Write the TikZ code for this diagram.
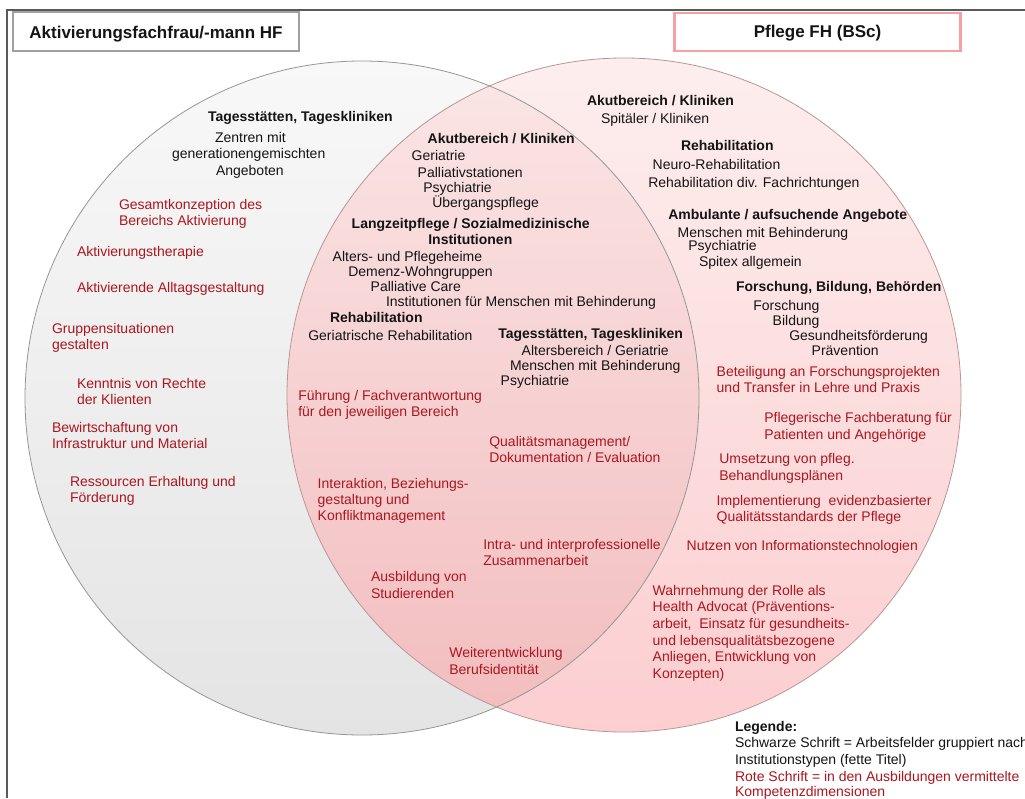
\documentclass[tikz,border=0pt]{standalone}
\usepackage{fontspec}
\setmainfont{Liberation Sans}
\definecolor{ink}{RGB}{20,20,20}
\definecolor{comp}{RGB}{172,22,30}
\definecolor{framegray}{RGB}{90,90,90}
\definecolor{hfborder}{RGB}{160,160,160}
\definecolor{fhborder}{RGB}{245,160,162}
\definecolor{hftop}{RGB}{248,248,248}
\definecolor{hfbot}{RGB}{228,228,228}
\definecolor{fhtop}{RGB}{253,238,238}
\definecolor{fhbot}{RGB}{252,206,208}
\definecolor{bothtop}{RGB}{251,230,230}
\definecolor{bothbot}{RGB}{242,188,190}
\definecolor{hfline}{RGB}{150,150,150}
\definecolor{fhline}{RGB}{185,150,152}
\begin{document}
\begin{tikzpicture}[x=1pt,y=-1pt,
  txt/.style={anchor=base west, inner sep=0pt, outer sep=0pt,
    font=\fontsize{14}{16.5}\selectfont, text=ink},
  hd/.style={txt, font=\fontsize{14}{16.5}\selectfont\bfseries},
  cmp/.style={txt, text=comp},
  titlebox/.style={draw, line width=2.6pt, inner sep=0pt, text=ink,
    font=\fontsize{17}{20}\selectfont\bfseries, text depth=0pt}]

\useasboundingbox (0,0) rectangle (1025,798);
\clip (0,0) rectangle (1025,798);
\fill[white] (0,0) rectangle (1025,798);

% outer frame
\coordinate (frTR) at (1025,10);
\coordinate (frTL) at (7,10);
\coordinate (frBL) at (7,798);
\draw[framegray, line width=1.5pt] (frTR) -- (frTL) -- (frBL);

% the two overlapping sets
\coordinate (cHF) at (362,398);
\coordinate (cFH) at (624,395);
\shade[top color=hftop, bottom color=hfbot] (cHF) circle[radius=337pt];
\shade[top color=fhtop, bottom color=fhbot] (cFH) circle[radius=337pt];
\begin{scope}
  \clip (cHF) circle[radius=337pt];
  \shade[top color=bothtop, bottom color=bothbot] (cFH) circle[radius=337pt];
\end{scope}
\draw[hfline, line width=0.8pt] (cHF) circle[radius=337pt];
\draw[fhline, line width=0.8pt] (cFH) circle[radius=337pt];

% titles
\node[titlebox, draw=hfborder, minimum width=286pt, minimum height=39pt,
  text height=13.6pt] (tHF) at (156,31.5) {Aktivierungsfachfrau/-mann HF};
\node[titlebox, draw=fhborder, minimum width=286pt, minimum height=38pt,
  text height=11pt] (tFH) at (817.5,32) {Pflege FH (BSc)};

% HF only: fields of work
\node[hd]  (a1) at (208,121)   {Tagesstätten, Tageskliniken};
\node[txt] (a2) at (215,142)   {Zentren mit};
\node[txt] (a3) at (172,158.5) {generationengemischten};
\node[txt] (a4) at (216,175)   {Angeboten};

% HF only: competences
\node[cmp] (b1)  at (119,209)   {Gesamtkonzeption des};
\node[cmp] (b2)  at (119,225.5) {Bereichs Aktivierung};
\node[cmp] (b3)  at (77,256)    {Aktivierungstherapie};
\node[cmp] (b4)  at (77,292)    {Aktivierende Alltagsgestaltung};
\node[cmp] (b5)  at (52,333)    {Gruppensituationen};
\node[cmp] (b6)  at (52,349.5)  {gestalten};
\node[cmp] (b7)  at (77,388)    {Kenntnis von Rechte};
\node[cmp] (b8)  at (77,404)    {der Klienten};
\node[cmp] (b9)  at (52,432)    {Bewirtschaftung von};
\node[cmp] (b10) at (52,448)    {Infrastruktur und Material};
\node[cmp] (b11) at (70,486)    {Ressourcen Erhaltung und};
\node[cmp] (b12) at (70,502)    {Förderung};

% shared: fields of work
\node[hd]  (c1)  at (427.7,143)   {Akutbereich / Kliniken};
\node[txt] (c2)  at (411.7,160)   {Geriatrie};
\node[txt] (c3)  at (417.7,177)   {Palliativstationen};
\node[txt] (c4)  at (423.3,192.5) {Psychiatrie};
\node[txt] (c5)  at (432.3,207)   {Übergangspflege};
\node[hd]  (c6)  at (351.7,228.5) {Langzeitpflege / Sozialmedizinische};
\node[hd]  (c7)  at (428.3,244.5) {Institutionen};
\node[txt] (c8)  at (332.7,261)   {Alters- und Pflegeheime};
\node[txt] (c9)  at (348.3,276.5) {Demenz-Wohngruppen};
\node[txt] (c10) at (370.7,291.5) {Palliative Care};
\node[txt] (c11) at (386,306)     {Institutionen für Menschen mit Behinderung};
\node[hd]  (c12) at (330,322.5)   {Rehabilitation};
\node[txt] (c13) at (308.3,340)   {Geriatrische Rehabilitation};
\node[hd]  (c14) at (498.3,338.5) {Tagesstätten, Tageskliniken};
\node[txt] (c15) at (521.7,355.5) {Altersbereich / Geriatrie};
\node[txt] (c16) at (510,370)     {Menschen mit Behinderung};
\node[txt] (c17) at (500.7,385)   {Psychiatrie};

% shared: competences
\node[cmp] (d1)  at (298.3,400)   {Führung / Fachverantwortung};
\node[cmp] (d2)  at (298.3,416)   {für den jeweiligen Bereich};
\node[cmp] (d3)  at (489.3,446.5) {Qualitätsmanagement/};
\node[cmp] (d4)  at (489.3,462.5) {Dokumentation / Evaluation};
\node[cmp] (d5)  at (317.7,488)   {Interaktion, Beziehungs-};
\node[cmp] (d6)  at (317.7,504)   {gestaltung und};
\node[cmp] (d7)  at (317.7,520.5) {Konfliktmanagement};
\node[cmp] (d8)  at (483.3,549)   {Intra- und interprofessionelle};
\node[cmp] (d9)  at (483.3,565)   {Zusammenarbeit};
\node[cmp] (d10) at (371,581.5)   {Ausbildung von};
\node[cmp] (d11) at (371,598)     {Studierenden};
\node[cmp] (d12) at (449.3,657)   {Weiterentwicklung};
\node[cmp] (d13) at (449.3,674)   {Berufsidentität};

% FH only: fields of work
\node[hd]  (e1)  at (587,105)     {Akutbereich / Kliniken};
\node[txt] (e2)  at (601,123)     {Spitäler / Kliniken};
\node[hd]  (e3)  at (681,150)     {Rehabilitation};
\node[txt] (e4)  at (652.7,169)   {Neuro-Rehabilitation};
\node[txt] (e5)  at (648.3,187)   {Rehabilitation div. Fachrichtungen};
\node[hd]  (e6)  at (668.3,219)   {Ambulante / aufsuchende Angebote};
\node[txt] (e7)  at (677.7,237)   {Menschen mit Behinderung};
\node[txt] (e8)  at (688.3,250.5) {Psychiatrie};
\node[txt] (e9)  at (699,266)     {Spitex allgemein};
\node[hd]  (e10) at (736,291.5)   {Forschung, Bildung, Behörden};
\node[txt] (e11) at (753.3,310.5) {Forschung};
\node[txt] (e12) at (772.7,325.5) {Bildung};
\node[txt] (e13) at (789.3,340.5) {Gesundheitsförderung};
\node[txt] (e14) at (811.7,355)   {Prävention};

% FH only: competences
\node[cmp] (f1)  at (716.7,376.5) {Beteiligung an Forschungsprojekten};
\node[cmp] (f2)  at (716.7,392.5) {und Transfer in Lehre und Praxis};
\node[cmp] (f3)  at (764.3,422.5) {Pflegerische Fachberatung für};
\node[cmp] (f4)  at (764.3,439)   {Patienten und Angehörige};
\node[cmp] (f5)  at (719.3,463)   {Umsetzung von pfleg.};
\node[cmp] (f6)  at (719.3,480)   {Behandlungsplänen};
\node[cmp] (f7)  at (716.7,505.5) {Implementierung\ \ evidenzbasierter};
\node[cmp] (f8)  at (716.7,521.5) {Qualitätsstandards der Pflege};
\node[cmp] (f9)  at (686.7,550)   {Nutzen von Informationstechnologien};
\node[cmp] (f10) at (652.7,595)   {Wahrnehmung der Rolle als};
\node[cmp] (f11) at (652.7,611.5) {Health Advocat (Präventions-};
\node[cmp] (f12) at (652.7,628)   {arbeit,\ \ Einsatz für gesundheits-};
\node[cmp] (f13) at (652.7,645)   {und lebensqualitätsbezogene};
\node[cmp] (f14) at (652.7,661.5) {Anliegen, Entwicklung von};
\node[cmp] (f15) at (652.7,678)   {Konzepten)};

% legend
\node[hd]  (g1) at (735,731.5) {Legende:};
\node[txt] (g2) at (735,747.5) {Schwarze Schrift = Arbeitsfelder gruppiert nach};
\node[txt] (g3) at (735,764)   {Institutionstypen (fette Titel)};
\node[cmp] (g4) at (735,781)   {Rote Schrift = in den Ausbildungen vermittelte};
\node[cmp] (g5) at (735,796.5) {Kompetenzdimensionen};
\end{tikzpicture}
\end{document}
